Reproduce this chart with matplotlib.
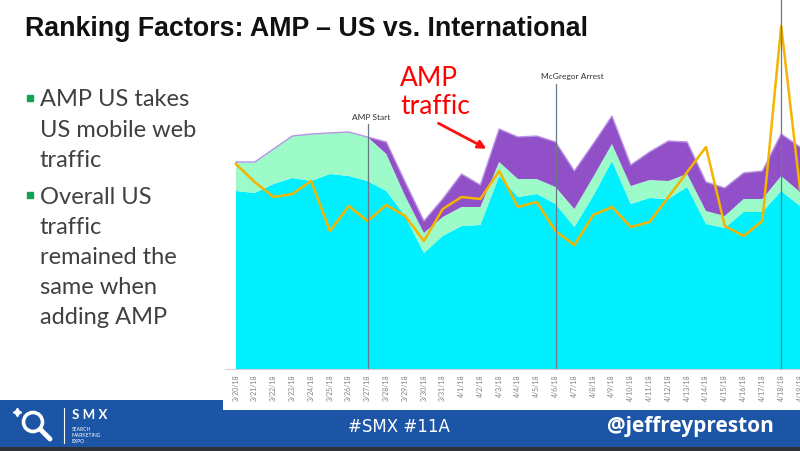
import numpy as np
import matplotlib
matplotlib.use("Agg")
import matplotlib.pyplot as plt
from matplotlib.patches import Polygon, Rectangle, Circle

plt.rcParams['font.family'] = ['Lato', 'DejaVu Sans']

# x axis dates
dates = ["3/20/18", "3/21/18", "3/22/18", "3/23/18", "3/24/18", "3/25/18",
         "3/26/18", "3/27/18", "3/28/18", "3/29/18", "3/30/18", "3/31/18",
         "4/1/18", "4/2/18", "4/3/18", "4/4/18", "4/5/18", "4/6/18", "4/7/18",
         "4/8/18", "4/9/18", "4/10/18", "4/11/18", "4/12/18", "4/13/18",
         "4/14/18", "4/15/18", "4/16/18", "4/17/18", "4/18/18", "4/19/18"]

# stacked traffic (arbitrary units)
us_base = [178, 176, 185, 191, 188, 195, 193, 188, 178, 153, 116, 133, 143, 144, 193,
           172, 175, 165, 142, 173, 208, 165, 171, 170, 182, 145, 141, 157, 157, 178, 163]
us_mobile_web = [29, 31, 35, 42, 47, 41, 44, 44, 37, 20, 20, 19, 19, 18, 14,
                 18, 15, 17, 18, 19, 17, 18, 18, 18, 13, 13, 12, 13, 13, 15, 14]
amp_us = [0, 0, 0, 0, 0, 0, 0, 0, 12, 14, 12, 18, 33, 22, 33,
          42, 43, 45, 38, 33, 28, 21, 28, 40, 32, 29, 28, 26, 28, 42, 45]
international = [205, 187, 172, 175, 188, 138, 163, 148, 164, 153, 128, 160, 172, 170, 198,
                 162, 167, 138, 124, 154, 162, 142, 147, 172, 197, 222, 143, 133, 148, 343, 180]

events = {"AMP Start": 7, "McGregor Arrest": 17, "": 29}

bullets = [["AMP US takes", "US mobile web", "traffic"],
           ["Overall US", "traffic", "remained the", "same when", "adding AMP"]]

fig = plt.figure(figsize=(8, 4.52), dpi=100)

# slide background layer in pixel coords
bg = fig.add_axes([0, 0, 1, 1])
bg.set_xlim(0, 800)
bg.set_ylim(452, 0)
bg.axis('off')

bg.text(25, 29, "Ranking Factors: AMP \u2013 US vs. International", fontsize=19.3,
        fontweight='bold', family=['Liberation Sans', 'DejaVu Sans'], va='center', color='#111111')

yy = 100
for group in bullets:
    bg.add_patch(Rectangle((27, yy - 4), 6, 6, color='#14a352'))
    for line in group:
        bg.text(40, yy, line, fontsize=17, color='#404040', va='center')
        yy += 30.2
    yy += 6.5

bg.text(400, 78, "AMP", fontsize=19, color='#ff0000', va='center')
bg.text(400, 107, "traffic", fontsize=19, color='#ff0000', va='center')
bg.annotate("", xy=(489, 151), xytext=(436, 123),
            arrowprops=dict(arrowstyle='-|>', color='#ff1010', lw=2, mutation_scale=12))

# footer band
bg.add_patch(Polygon([(0, 401), (223, 401), (223, 411), (800, 411), (800, 448), (0, 448)],
                     closed=True, color='#1d55a6', lw=0))
bg.add_patch(Rectangle((0, 448), 800, 5, color='#303238', lw=0))
bg.add_patch(Circle((33, 423), 9.5, fill=False, ec='white', lw=2.6))
bg.plot([40, 50], [430, 440], color='white', lw=3.5, solid_capstyle='round')
bg.plot([17], [413], marker=(4, 1, 0), color='white', ms=6)
bg.plot([64, 64], [409, 444], color='white', lw=0.8)
bg.text(72, 415, "S M X", fontsize=9.5, fontweight='bold', color='white', va='center')
for t, y in zip(["SEARCH", "MARKETING", "EXPO"], [430, 436, 442]):
    bg.text(72, y, t, fontsize=3.6, color='white', va='center')
bg.text(399, 427, "#SMX #11A", fontsize=12, color='white', va='center', ha='center',
        family=['DejaVu Sans'])
bg.text(690, 427, "@jeffreypreston", fontsize=15, fontweight='bold', color='white',
        va='center', ha='center', family=['Open Sans', 'DejaVu Sans'])

# chart
ax = fig.add_axes([225 / 800, 1 - 370 / 452, 575 / 800, 350 / 452])
ax.patch.set_alpha(0)
x = np.arange(len(dates))
ax.stackplot(x, us_base, us_mobile_web, amp_us,
             colors=['#00f0ff', '#9cfbc9', '#9150c8'], linewidth=0)
total = np.array(us_base) + np.array(us_mobile_web) + np.array(amp_us)
ax.plot(x, total, color='#b994e3', lw=1)
ax.plot(x, international, color='#f4b400', lw=1.8)

for label, i in events.items():
    top = {"AMP Start": 0.70, "McGregor Arrest": 0.815, "": 1.06}[label]
    ax.axvline(i, ymin=0, ymax=top, color='#6b7886', lw=0.9, clip_on=False)
    if label:
        ax.text(i - 0.8, top * 350 + 8, label, fontsize=6, color='#333333', va='center')

ax.set_xlim(-0.58, 29.84)
ax.set_ylim(0, 350)
ax.set_xticks(x)
ax.set_xticklabels(dates, rotation=90, fontsize=5, color='#808080')
ax.tick_params(axis='x', length=0, pad=3)
ax.set_yticks([])
for s in ['top', 'right', 'left']:
    ax.spines[s].set_visible(False)
ax.spines['bottom'].set_color('#d0d0d0')
ax.spines['bottom'].set_linewidth(0.8)

fig.savefig("out.png", dpi=100)
